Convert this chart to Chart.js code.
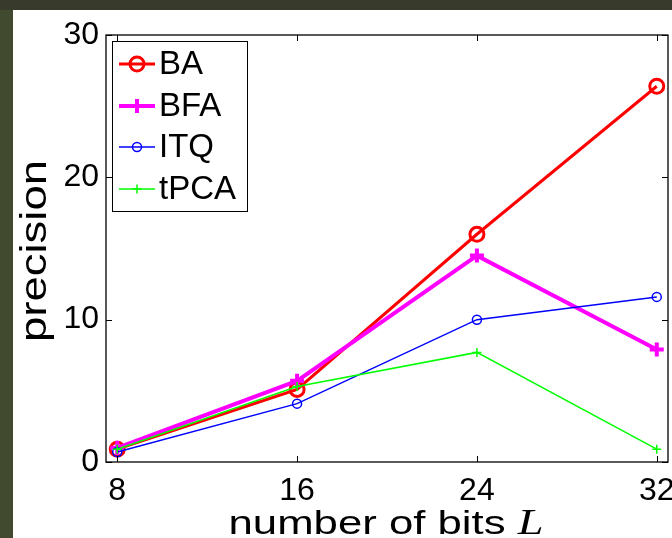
<!DOCTYPE html>
<html>
<head>
<meta charset="utf-8">
<script src="https://cdn.jsdelivr.net/npm/chart.js@4.4.0/dist/chart.umd.min.js"></script>
<style>
  html, body { margin: 0; overflow: hidden; }
  body { background: #414a2e; width: 672px; height: 538px; }
  .topbar { position: absolute; left: 0; top: 0; width: 672px; height: 10px; background: #383b2b; }
  /* a bit wider than the window: the "32" label is cut at the edge like in the figure */
  .frame { position: absolute; left: 13px; top: 10px; width: 666px; height: 528px; background: #fff; }
</style>
</head>
<body>
<div class="topbar"></div>
<div class="frame"><canvas id="prec"></canvas></div>

<script>
  // values
  var bits = [8, 16, 24, 32];
  var yTicks = [0, 10, 20, 30];
  var baPrec = [0.9, 5.1, 16.0, 26.4];
  var bfaPrec = [1.0, 5.7, 14.5, 7.9];
  var itqPrec = [0.7, 4.1, 10.0, 11.6];
  var tpcaPrec = [0.9, 5.3, 7.7, 0.9];

  var sans = "'Liberation Sans', Arial, sans-serif";

  function pts(vals) {
      return bits.map(function(b, i) { return { x: b, y: vals[i] }; });
  }

  function series(label, vals, color, width, style, radius, order) {
      return {
          label: label,
          data: pts(vals),
          borderColor: color,
          borderWidth: width,
          pointStyle: style,
          pointRadius: radius,
          pointBorderColor: color,
          pointBorderWidth: width,
          pointBackgroundColor: 'rgba(0,0,0,0)',
          tension: 0,
          order: order
      };
  }

  // legend box like matlab: line sample with marker in the middle
  var legendBox = {
      id: 'legendBox',
      afterDatasetsDraw: function(chart) {
          var ctx = chart.ctx;
          var x0 = 99, y0 = 31, w = 135, h = 170;
          ctx.save();
          ctx.fillStyle = '#fff';
          ctx.fillRect(x0, y0, w, h);
          ctx.strokeStyle = '#000';
          ctx.lineWidth = 1;
          ctx.strokeRect(x0 + 0.5, y0 + 0.5, w, h);
          var rows = [54, 96, 137, 179];
          chart.data.datasets.forEach(function(ds, i) {
              var y = rows[i];
              ctx.strokeStyle = ds.borderColor;
              ctx.lineWidth = ds.borderWidth;
              ctx.beginPath();
              ctx.moveTo(106, y);
              ctx.lineTo(142, y);
              ctx.stroke();
              ctx.fillStyle = 'rgba(0,0,0,0)';
              Chart.helpers.drawPoint(ctx, {
                  pointStyle: ds.pointStyle,
                  radius: ds.pointRadius,
                  rotation: 0,
                  borderWidth: ds.borderWidth
              }, 124, y);
              ctx.fillStyle = '#000';
              ctx.font = '33px ' + sans;
              ctx.textBaseline = 'middle';
              ctx.textAlign = 'left';
              ctx.fillText(ds.label, 146, y + 1);
          });
          ctx.restore();
      }
  };

  // box around the axes, inward ticks on all four sides, axis titles
  var axesBox = {
      id: 'axesBox',
      afterDraw: function(chart) {
          var ctx = chart.ctx, a = chart.chartArea;
          var xs = chart.scales.x, ys = chart.scales.y;
          ctx.save();
          ctx.strokeStyle = '#000';
          ctx.lineWidth = 1.3;
          ctx.strokeRect(a.left, a.top, a.right - a.left, a.bottom - a.top);
          ctx.lineWidth = 1;
          ctx.beginPath();
          bits.forEach(function(v) {
              var px = Math.round(xs.getPixelForValue(v)) + 0.5;
              ctx.moveTo(px, a.bottom); ctx.lineTo(px, a.bottom - 6);
              ctx.moveTo(px, a.top); ctx.lineTo(px, a.top + 6);
          });
          yTicks.forEach(function(v) {
              var py = Math.round(ys.getPixelForValue(v)) + 0.5;
              ctx.moveTo(a.left, py); ctx.lineTo(a.left + 6, py);
              ctx.moveTo(a.right, py); ctx.lineTo(a.right - 6, py);
          });
          ctx.stroke();

          // x title: "number of bits " + italic L
          ctx.fillStyle = '#000';
          ctx.textBaseline = 'alphabetic';
          ctx.textAlign = 'left';
          var f1 = '34px ' + sans, f2 = 'italic 36px "Liberation Serif", "Times New Roman", serif';
          var t1 = 'number of bits ', t2 = 'L';
          ctx.font = f1; var w1 = ctx.measureText(t1).width;
          ctx.font = f2; var w2 = ctx.measureText(t2).width;
          var sx = 315 / (w1 + w2);
          ctx.save();
          ctx.translate(373, 524);
          ctx.scale(sx, 1);
          ctx.font = f1; ctx.fillText(t1, -(w1 + w2) / 2, 0);
          ctx.font = f2; ctx.fillText(t2, -(w1 + w2) / 2 + w1, 0);
          ctx.restore();

          // y title
          ctx.save();
          ctx.font = '36px ' + sans;
          var wy = ctx.measureText('precision').width;
          ctx.translate(33, 241);
          ctx.rotate(-Math.PI / 2);
          ctx.scale(182 / wy, 1);
          ctx.textAlign = 'center';
          ctx.fillText('precision', 0, 0);
          ctx.restore();
          ctx.restore();
      }
  };

  new Chart(document.getElementById('prec'), {
      type: 'line',
      data: {
          datasets: [
              series('BA', baPrec, '#ff0000', 3, 'circle', 7, 4),
              series('BFA', bfaPrec, '#ff00ff', 4, 'cross', 7, 3),
              series('ITQ', itqPrec, '#0000ff', 1.5, 'circle', 4.5, 2),
              series('tPCA', tpcaPrec, '#00ff00', 1.5, 'cross', 4.5, 1)
          ]
      },
      options: {
          responsive: true,
          maintainAspectRatio: false,
          animation: false,
          // right padding covers the marker overflow chart.js reserves
          layout: { padding: { left: 0, top: 25, right: 11, bottom: 0 } },
          plugins: {
              legend: { display: false },
              tooltip: { enabled: false }
          },
          scales: {
              x: {
                  type: 'linear',
                  min: 7.5,
                  max: 32.5,
                  grid: { display: false, drawTicks: false },
                  border: { display: false },
                  afterBuildTicks: function(scale) {
                      scale.ticks = bits.map(function(v) { return { value: v }; });
                  },
                  afterFit: function(scale) {
                      scale.height = 76;
                      scale.paddingLeft = 0;
                      scale.paddingRight = 0;
                  },
                  ticks: {
                      color: '#000',
                      padding: 10,
                      autoSkip: false,
                      maxRotation: 0,
                      font: { family: sans, size: 32 }
                  }
              },
              y: {
                  min: 0,
                  max: 30,
                  grid: { display: false, drawTicks: false },
                  border: { display: false },
                  afterBuildTicks: function(scale) {
                      scale.ticks = yTicks.map(function(v) { return { value: v }; });
                  },
                  afterFit: function(scale) {
                      scale.width = 93;
                      scale.paddingTop = 0;
                      scale.paddingBottom = 0;
                  },
                  ticks: {
                      color: '#000',
                      padding: 7,
                      font: { family: sans, size: 32 }
                  }
              }
          }
      },
      plugins: [legendBox, axesBox]
  });
</script>
</body>
</html>
